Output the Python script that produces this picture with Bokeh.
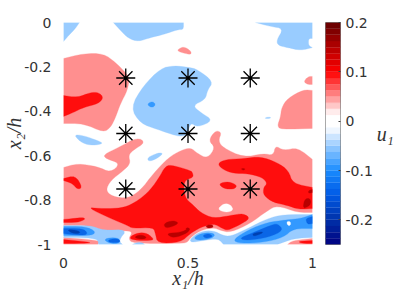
from bokeh.plotting import figure
from bokeh.layouts import row
from bokeh.models import FixedTicker
from bokeh.embed import file_html
from bokeh.resources import INLINE
import numpy as np

# Contour regions, in data units (x1/h, x2/h).
u_p05 = [
 [(0,-.162),(.08,-.14),(.161,-.14),(.209,-.18),(.241,-.216),(.265,-.248),(.257,-.306),(.229,-.365),(.209,-.428),(.189,-.473),(.161,-.495),(.08,-.455),(0,-.455)],
 [(.458,-.122),(.482,-.108),(.51,-.126),(.514,-.144),(.49,-.14),(.462,-.131)],
 [(.964,-.266),(.984,-.243),(1,-.243),(1,-.279),(.98,-.279)],
 [(.876,-.383),(.9,-.342),(.964,-.302),(1,-.306),(1,-.477),(.871,-.482),(.859,-.464),(.871,-.428)],
 [(0,-.653),(.056,-.635),(.137,-.649),(.189,-.676),(.229,-.635),(.169,-.613),(.161,-.595),(.221,-.563),(.297,-.517),(.329,-.541),(.277,-.577),(.261,-.599),(.269,-.635),(.241,-.667),(.189,-.712),(.169,-.757),(.197,-.784),(.257,-.793),(.309,-.757),(.361,-.68),(.422,-.608),(.47,-.577),(.51,-.563),(.538,-.59),(.578,-.613),(.61,-.563),(.582,-.532),(.61,-.486),(.635,-.495),(.622,-.532),(.639,-.563),(.723,-.608),(.803,-.59),(.843,-.599),(.851,-.554),(.884,-.577),(.94,-.563),(1,-.617),(1,-.856),(.94,-.856),(.859,-.824),(.819,-.847),(.751,-.905),(.671,-.946),(.631,-.937),(.602,-.923),(.55,-.937),(.51,-.968),(.498,-.991),(.47,-.995),(.277,-.995),(.261,-.973),(.277,-.946),(.257,-.937),(.149,-.937),(.12,-.923),(.08,-.914),(0,-.914)],
 [(0,-.968),(.149,-.982),(.137,-1),(0,-1)],
 [(.92,-.982),(1,-.973),(1,-1),(.9,-1)],
]
u_p10 = [
 [(0,-.329),(.056,-.338),(.108,-.315),(.141,-.315),(.161,-.338),(.141,-.365),(.08,-.383),(.04,-.405),(0,-.423)],
 [(0,-.703),(.048,-.689),(.076,-.743),(.056,-.752),(.036,-.725),(0,-.712)],
 [(0,-.887),(.04,-.883),(.08,-.878),(.088,-.887),(.056,-.901),(0,-.901)],
 [(.096,-.833),(.141,-.838),(.217,-.838),(.269,-.824),(.337,-.77),(.382,-.703),(.41,-.644),(.442,-.644),(.51,-.667),(.518,-.676),(.522,-.698),(.482,-.712),(.486,-.788),(.522,-.824),(.55,-.856),(.602,-.883),(.671,-.869),(.723,-.86),(.751,-.883),(.703,-.914),(.659,-.937),(.639,-.928),(.602,-.905),(.55,-.923),(.51,-.95),(.47,-.991),(.378,-.995),(.369,-.95),(.361,-.923),(.277,-.928),(.257,-.914),(.189,-.883)],
 [(.261,-.973),(.289,-.95),(.329,-.946),(.357,-.968),(.361,-.982),(.297,-.982)],
 [(.618,-.635),(.651,-.617),(.723,-.613),(.791,-.604),(.859,-.631),(.904,-.667),(.92,-.725),(1,-.743),(1,-.838),(.944,-.842),(.9,-.824),(.843,-.811),(.803,-.779),(.803,-.743),(.819,-.725),(.799,-.698),(.739,-.68),(.683,-.68),(.639,-.662)],
 [(.622,-.725),(.663,-.716),(.699,-.734),(.683,-.752),(.643,-.748)],
 [(0,-.977),(.12,-.991),(.08,-.995),(0,-.995)],
 [(.94,-.986),(1,-.982),(1,-.995),(.96,-.995)],
]
u_p15 = [
 [(.281,-.968),(.309,-.955),(.337,-.968),(.317,-.977)],
 [(.402,-.905),(.438,-.892),(.462,-.901),(.45,-.914),(.41,-.928)],
 [(.41,-.95),(.47,-.946),(.502,-.928),(.502,-.946),(.442,-.973)],
 [(.49,-.923),(.51,-.928),(.498,-.946)],
 [(.57,-.914),(.598,-.91),(.602,-.923),(.578,-.928)],
 [(.972,-.793),(.992,-.793),(.992,-.824),(.964,-.838),(.964,-.815)],
 [(.984,-.757),(1,-.752),(1,-.766),(.984,-.77)],
 [(.711,-.658),(.731,-.658),(.723,-.667)],
]
u_n05 = [
 [(0,0),(.064,0),(.048,-.027),(.02,-.059),(0,-.086)],
 [(.2,0),(.482,0),(.482,-.032),(.458,-.032),(.402,-.054),(.349,-.068),(.301,-.086),(.261,-.072),(.229,-.036)],
 [(.771,0),(1,0),(1,-.072),(.984,-.072),(.984,-.104),(1,-.113),(.952,-.126),(.9,-.113),(.863,-.104),(.855,-.081),(.884,-.027),(.831,-.018)],
 [(.269,-.383),(.321,-.284),(.39,-.207),(.442,-.194),(.51,-.203),(.538,-.212),(.602,-.266),(.578,-.306),(.57,-.347),(.518,-.374),(.55,-.405),(.602,-.441),(.538,-.473),(.51,-.45),(.498,-.505),(.47,-.514),(.438,-.505),(.378,-.482),(.309,-.455)],
 [(.04,-.505),(.08,-.509),(.137,-.532),(.161,-.545),(.12,-.554),(.076,-.545)],
 [(.337,-.608),(.382,-.586),(.402,-.59),(.369,-.617),(.341,-.626)],
 [(.811,-.428),(.831,-.426),(.831,-.432),(.811,-.433)],
 [(0,-.914),(.108,-.914),(.161,-.937),(.257,-.932),(.221,-.982),(.237,-1),(.141,-1),(.137,-.973),(.04,-.968),(0,-.968)],
 [(.277,-1),(.293,-.991),(.317,-.991),(.325,-1)],
 [(.51,-.973),(.55,-.941),(.602,-.937),(.639,-.959),(.671,-.964),(.739,-.928),(.819,-.883),(.884,-.865),(1,-.865),(1,-.968),(.924,-.973),(.859,-1),(.643,-1),(.622,-.973),(.562,-.982),(.51,-.991)],
]
u_n10 = [
 [(.337,-.369),(.348,-.358),(.362,-.358),(.369,-.369),(.362,-.381),(.348,-.381)],
 [(0,-.919),(.088,-.919),(.129,-.941),(.116,-.959),(.04,-.959),(0,-.959)],
 [(.161,-.973),(.221,-.968),(.229,-.995),(.181,-.995)],
 [(.522,-.968),(.562,-.946),(.61,-.95),(.598,-.973),(.538,-.982)],
 [(.679,-.982),(.723,-.946),(.803,-.905),(.871,-.892),(.952,-.883),(1,-.865),(1,-.928),(.924,-.928),(.884,-.968),(.803,-.991),(.711,-.995)],
]
u_n15 = [
 [(0,-.928),(.076,-.928),(.096,-.946),(.088,-.959),(.028,-.955),(0,-.95)],
 [(.181,-.977),(.221,-.973),(.229,-.991),(.181,-.991)],
 [(.558,-.959),(.582,-.95),(.602,-.964),(.57,-.973)],
 [(.703,-.973),(.763,-.946),(.831,-.914),(.859,-.905),(.884,-.937),(.823,-.968),(.739,-.982)],
 [(.972,-.883),(1,-.874),(1,-.905),(.98,-.91)],
]
u_n20 = [
 [(.012,-.932),(.06,-.937),(.068,-.95),(.036,-.95)],
 [(.759,-.95),(.799,-.941),(.799,-.95),(.763,-.964)],
]
u_holes = [
 [(.618,-.842),(.643,-.815),(.671,-.82),(.683,-.847),(.651,-.856)],
 [(.896,-.896),(.912,-.896),(.912,-.914),(.9,-.914)],
]
star_x = [.25, .5, .75, .25, .5, .75, .25, .5, .75]
star_y = [-.25, -.25, -.25, -.5, -.5, -.5, -.75, -.75, -.75]

fill_colors = {"p05": "#ff8f8f", "p10": "#ff0d0d", "p15": "#b80000",
               "n05": "#99ccff", "n10": "#3399ff", "n15": "#0a66e6", "n20": "#0040b0"}

xticks = [0, 0.5, 1]
xlabels = ["0", "0.5", "1"]
yticks = [0, -0.2, -0.4, -0.6, -0.8, -1]
ylabels = ["0", "-0.2", "-0.4", "-0.6", "-0.8", "-1"]
cticks = [0.2, 0.1, 0, -0.1, -0.2]
clabels = ["0.2", "0.1", "0", "-0.1", "-0.2"]
cmap_vals = [-.25, -.2, -.15, -.1, -.05, -.0125, .0125, .05, .1, .15, .2]
cmap_rgb = [(0,0,128), (0,50,170), (0,90,230), (26,140,255), (153,204,255), (255,255,255),
            (255,255,255), (255,143,143), (255,0,0), (180,0,0), (100,0,0)]

TXT = "#333333"
LABEL_SIZE = "20px"

p = figure(width=325, height=293, x_range=(0, 1), y_range=(-1, 0),
           output_backend="svg", toolbar_location=None,
           frame_width=249, frame_height=222,
           min_border_left=63, min_border_right=13, min_border_top=22, min_border_bottom=49)
p.grid.visible = False
p.outline_line_color = None

def on_edge(q):
    return q[0] <= 0 or q[0] >= 1 or q[1] >= 0 or q[1] <= -1

def smooth(r, n=2):
    # corner cutting at draw time; vertices on the plot's edge stay put
    for _ in range(n):
        out = []
        for i, v in enumerate(r):
            if on_edge(v):
                out.append(v)
                continue
            a, b = r[i - 1], r[(i + 1) % len(r)]
            out.append((.75 * v[0] + .25 * a[0], .75 * v[1] + .25 * a[1]))
            out.append((.75 * v[0] + .25 * b[0], .75 * v[1] + .25 * b[1]))
        r = out
    return r

def draw(regions, color):
    regions = [smooth(r) for r in regions]
    p.patches([[q[0] for q in r] for r in regions], [[q[1] for q in r] for r in regions],
              fill_color=color, line_color=color, line_width=0.3)

draw(u_p05, fill_colors["p05"])
draw(u_p10, fill_colors["p10"])
draw(u_p15, fill_colors["p15"])
draw(u_n05, fill_colors["n05"])
draw(u_n10, fill_colors["n10"])
draw(u_n15, fill_colors["n15"])
draw(u_n20, fill_colors["n20"])
draw(u_holes, "#ffffff")

p.scatter(star_x, star_y, marker="asterisk", size=19, line_color="#000000", line_width=1.3, fill_color=None)

for ax, ticks, labels in ((p.xaxis[0], xticks, xlabels), (p.yaxis[0], yticks, ylabels)):
    ax.ticker = FixedTicker(ticks=ticks)
    ax.major_label_overrides = dict(zip(ticks, labels))
    ax.axis_line_color = None
    ax.major_tick_line_color = None
    ax.minor_tick_line_color = None
    ax.major_label_text_font = "DejaVu Sans"
    ax.major_label_text_font_size = "14px"
    ax.major_label_text_color = TXT
    ax.axis_label_text_font = "Liberation Serif"
    ax.axis_label_text_font_style = "italic"
    ax.axis_label_text_font_size = LABEL_SIZE
    ax.axis_label_text_color = TXT
p.xaxis[0].major_label_standoff = 7
p.yaxis[0].major_label_standoff = 6
p.xaxis[0].axis_label = "x₁/h"
p.yaxis[0].axis_label = "x₂/h"
p.xaxis[0].axis_label_standoff = -4
p.yaxis[0].axis_label_standoff = -4

grid = -0.25 + 0.0125 * (np.arange(36) + 0.5)
palette = []
for v in grid:
    rgb = [int(np.interp(v, cmap_vals, [c[i] for c in cmap_rgb])) for i in range(3)]
    palette.append("#%02x%02x%02x" % tuple(rgb))

cb = figure(width=74, height=293, x_range=(0, 1), y_range=(-0.25, 0.2),
            output_backend="svg", toolbar_location=None, y_axis_location="right",
            frame_width=15, frame_height=222,
            min_border_left=0, min_border_right=59, min_border_top=22, min_border_bottom=49)
cb.grid.visible = False
cb.xaxis.visible = False
cb.outline_line_color = "#808080"
cb.hbar(y=grid, height=0.0125, left=0, right=1, fill_color=palette, line_color=palette, line_width=0.2)
ay = cb.yaxis[0]
ay.ticker = FixedTicker(ticks=cticks)
ay.major_label_overrides = dict(zip(cticks, clabels))
ay.axis_line_color = None
ay.major_tick_line_color = "#404040"
ay.major_tick_in = 2
ay.major_tick_out = 0
ay.minor_tick_line_color = None
ay.major_label_standoff = 5
ay.major_label_text_font = "DejaVu Sans"
ay.major_label_text_font_size = "14px"
ay.major_label_text_color = TXT
ay.axis_label = "u₁"
ay.axis_label_orientation = "horizontal"
ay.axis_label_standoff = 1
ay.axis_label_text_font = "Liberation Serif"
ay.axis_label_text_font_style = "italic"
ay.axis_label_text_font_size = LABEL_SIZE
ay.axis_label_text_color = TXT

open("out.html", "w").write(file_html(row(p, cb), INLINE))
